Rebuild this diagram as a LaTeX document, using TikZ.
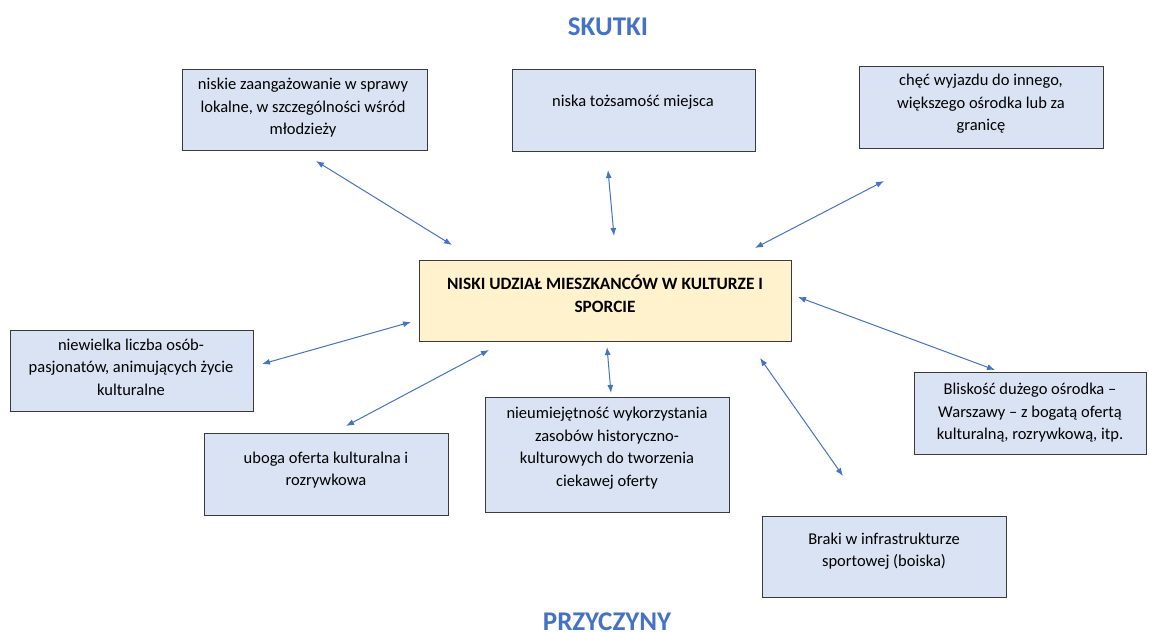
\documentclass[tikz,border=0pt]{standalone}
\usepackage{fontspec}
\setmainfont{Carlito}
\usetikzlibrary{arrows.meta}
\definecolor{boxblue}{HTML}{DAE3F3}
\definecolor{boxyellow}{HTML}{FFF2CC}
\definecolor{accent}{HTML}{4472C4}
\definecolor{edge}{HTML}{3A3A3A}
\begin{document}
\begin{tikzpicture}[x=1pt,y=-1pt,
  box/.style={draw=edge, line width=0.9pt, fill=boxblue, inner sep=0pt, anchor=north west},
  cbox/.style={box, fill=boxyellow},
  txt/.style={align=center, font=\fontsize{16.5}{22.5}\selectfont, inner sep=0pt},
  btxt/.style={txt, font=\fontsize{17.3}{23}\selectfont\bfseries},
  title/.style={font=\fontsize{27}{30}\selectfont\bfseries, text=accent, inner sep=0pt},
  link/.style={draw=accent, line width=1pt, {Latex[length=8pt,width=6pt]}-{Latex[length=8pt,width=6pt]}}
]
\useasboundingbox (0,0) rectangle (1149,632);
\fill[white] (0,0) rectangle (1149,632);

% titles
\node[title] (skutki) at (608,27) {SKUTKI};
\node[title, anchor=base] (przyczyny) at (607,630) {PRZYCZYNY};

% boxes
\node[box, minimum width=245pt, minimum height=81pt] (b1) at (182,69) {};
\node[box, minimum width=243pt, minimum height=82pt] (b2) at (512,69) {};
\node[box, minimum width=244pt, minimum height=82pt] (b3) at (859,66) {};
\node[cbox, minimum width=372pt, minimum height=81pt] (c) at (419,260) {};
\node[box, minimum width=243pt, minimum height=81pt] (b5) at (10,330) {};
\node[box, minimum width=244pt, minimum height=82pt] (b6) at (204,433) {};
\node[box, minimum width=244pt, minimum height=115pt] (b7) at (485,397) {};
\node[box, minimum width=232pt, minimum height=82pt] (b8) at (914,372) {};
\node[box, minimum width=244pt, minimum height=81pt] (b9) at (762,516) {};

% texts
\node[txt] (t1) at (303,108) {niskie zaangażowanie w sprawy\\lokalne, w szczególności wśród\\młodzieży};
\node[txt] (t2) at (633,102) {niska tożsamość miejsca};
\node[txt] (t3) at (981,104) {chęć wyjazdu do innego,\\większego ośrodka lub za\\granicę};
\node[btxt] (tc) at (605,294) {NISKI UDZIAŁ MIESZKANCÓW W KULTURZE I\\SPORCIE};
\node[txt] (t5) at (131,367) {niewielka liczba osób-\\pasjonatów, animujących życie\\kulturalne};
\node[txt] (t6) at (326,470) {uboga oferta kulturalna i\\rozrywkowa};
\node[txt] (t7) at (607,448) {nieumiejętność wykorzystania\\zasobów historyczno-\\kulturowych do tworzenia\\ciekawej oferty};
\node[txt] (t8) at (1030,413) {Bliskość dużego ośrodka --\\Warszawy -- z bogatą ofertą\\kulturalną, rozrywkową, itp.};
\node[txt] (t9) at (884,551) {Braki w infrastrukturze\\sportowej (boiska)};

% arrow end points
\coordinate (a1s) at (316,161); \coordinate (a1e) at (452,245);
\coordinate (a2s) at (608,170); \coordinate (a2e) at (614,236);
\coordinate (a3s) at (884,181); \coordinate (a3e) at (755,248);
\coordinate (a4s) at (411,322); \coordinate (a4e) at (262,364);
\coordinate (a5s) at (489,350); \coordinate (a5e) at (346,426);
\coordinate (a6s) at (607,347); \coordinate (a6e) at (611,393);
\coordinate (a7s) at (760,358); \coordinate (a7e) at (843,476);
\coordinate (a8s) at (798,297); \coordinate (a8e) at (995,370);

\draw[link] (a1s) -- (a1e);
\draw[link] (a2s) -- (a2e);
\draw[link] (a3s) -- (a3e);
\draw[link] (a4s) -- (a4e);
\draw[link] (a5s) -- (a5e);
\draw[link] (a6s) -- (a6e);
\draw[link] (a7s) -- (a7e);
\draw[link] (a8s) -- (a8e);
\end{tikzpicture}
\end{document}
